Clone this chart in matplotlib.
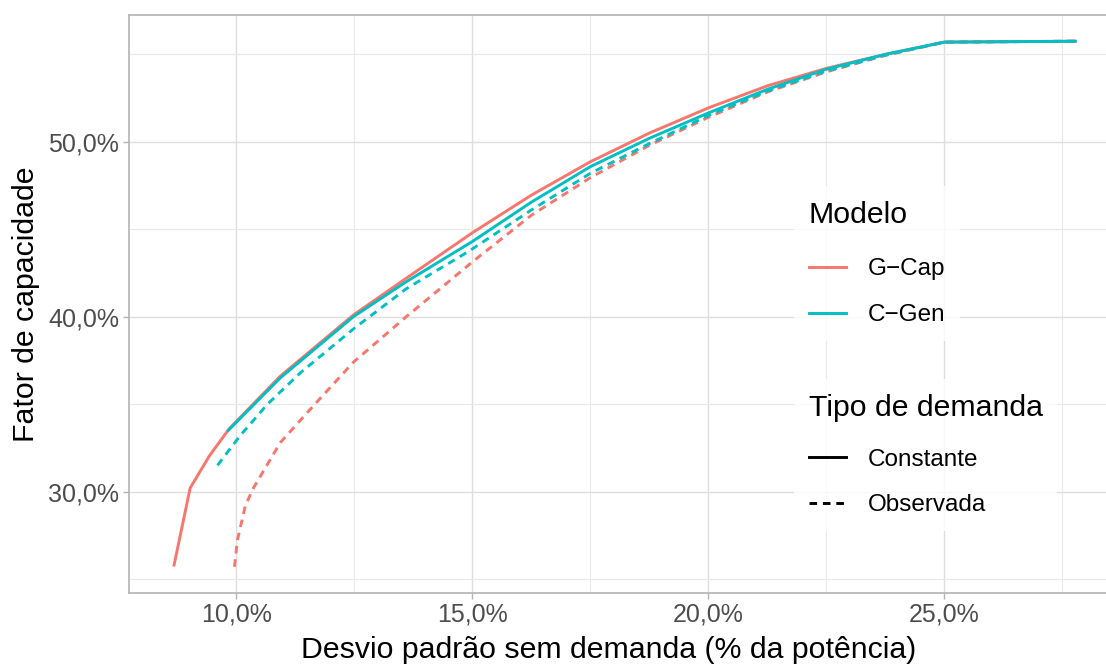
import matplotlib
matplotlib.use("Agg")
import matplotlib.pyplot as plt
from matplotlib.lines import Line2D
from matplotlib.ticker import FixedLocator, FuncFormatter

plt.rcParams['font.family'] = ['Liberation Sans', 'DejaVu Sans']

# desvio padrão (%) x fator de capacidade (%)
gcap_const_x = [8.68, 9.02, 9.43, 9.85, 10.93, 12.48, 13.6, 15.0, 16.25, 17.5, 18.75,
                20.0, 21.25, 22.5, 23.75, 25.0, 27.77]
gcap_const_y = [25.8, 30.2, 32.05, 33.6, 36.6, 40.1, 42.2, 44.8, 46.95, 48.86, 50.5,
                51.94, 53.2, 54.2, 55.0, 55.7, 55.75]

cgen_const_x = [9.83, 10.93, 12.48, 13.6, 15.0, 16.25, 17.5, 18.75, 20.0, 21.25,
                22.5, 23.75, 25.0, 27.77]
cgen_const_y = [33.5, 36.5, 40.0, 42.0, 44.3, 46.55, 48.58, 50.2, 51.65, 53.0,
                54.15, 55.0, 55.7, 55.75]

gcap_obs_x = [9.96, 10.02, 10.19, 10.36, 10.93, 11.63, 12.14, 12.48, 13.6, 15.03,
              16.25, 17.5, 18.75, 20.0, 21.25, 22.5, 23.75, 25.0, 27.77]
gcap_obs_y = [25.7, 27.2, 29.2, 30.2, 32.8, 34.9, 36.4, 37.4, 40.0, 43.2,
              45.8, 47.95, 49.8, 51.4, 52.85, 54.0, 54.95, 55.7, 55.75]

cgen_obs_x = [9.6, 10.08, 10.66, 11.36, 12.48, 13.6, 14.9, 16.25, 17.5, 18.75,
              20.0, 21.25, 22.5, 23.75, 25.0, 27.77]
cgen_obs_y = [31.5, 33.2, 35.0, 36.8, 39.3, 41.6, 43.7, 46.1, 48.2, 49.9,
              51.5, 52.9, 54.05, 54.95, 55.7, 55.75]

modelos = ['G\u2212Cap', 'C\u2212Gen']
tipos = ['Constante', 'Observada']
cores = ['#F8766D', '#00BFC4']

fig = plt.figure(figsize=(11.06, 6.64), dpi=100)
ax = fig.add_axes([129 / 1106, 1 - 593 / 664, (1120 - 129) / 1106, (593 - 15) / 664])

dash = (0, (2.6, 2.0))
lw = 2.1
ax.plot(gcap_obs_x, gcap_obs_y, color=cores[0], lw=lw, ls=dash)
ax.plot(cgen_obs_x, cgen_obs_y, color=cores[1], lw=lw, ls=dash)
ax.plot(gcap_const_x, gcap_const_y, color=cores[0], lw=lw)
ax.plot(cgen_const_x, cgen_const_y, color=cores[1], lw=lw)

ax.set_xlim(7.725, 28.72)
ax.set_ylim(24.2, 57.25)

fmt = FuncFormatter(lambda v, p: f"{v:.1f}%".replace('.', ','))
ax.xaxis.set_major_locator(FixedLocator([10, 15, 20, 25]))
ax.xaxis.set_minor_locator(FixedLocator([12.5, 17.5, 22.5, 27.5]))
ax.yaxis.set_major_locator(FixedLocator([30, 40, 50]))
ax.yaxis.set_minor_locator(FixedLocator([25, 35, 45, 55]))
ax.xaxis.set_major_formatter(fmt)
ax.yaxis.set_major_formatter(fmt)

ax.grid(which='major', color='#DEDEDE', lw=1.0)
ax.grid(which='minor', color='#E8E8E8', lw=0.8)
ax.set_axisbelow(True)
for s in ax.spines.values():
    s.set_color('#B3B3B3')
    s.set_linewidth(1.2)
ax.tick_params(which='major', length=4, width=1.0, color='#B3B3B3',
               labelsize=18, labelcolor='#4D4D4D', pad=3)
ax.tick_params(which='minor', length=0)

ax.set_xlabel('Desvio padrão sem demanda (% da potência)', fontsize=21.8, labelpad=2)
ax.set_ylabel('Fator de capacidade', fontsize=21.8, labelpad=6)
ax.xaxis.set_label_coords((609 - 129) / 991, -0.075)

h_modelo = [Line2D([], [], color=c, lw=lw) for c in cores]
h_tipo = [Line2D([], [], color='black', lw=lw),
          Line2D([], [], color='black', lw=lw, ls=dash)]

opts = dict(fontsize=17.5, title_fontsize=21.8, frameon=True, fancybox=False,
            handlelength=1.52, handletextpad=0.9, labelspacing=0.97,
            borderpad=0.6, borderaxespad=0, loc='upper left',
            bbox_transform=fig.transFigure, alignment='left')


def caixa(leg, sep):
    leg.get_frame().set_edgecolor('none')
    leg.get_frame().set_facecolor('white')
    # espaço entre o título e as entradas
    leg._legend_box.sep = sep
    return leg


leg1 = caixa(ax.legend(h_modelo, modelos, title='Modelo',
                       bbox_to_anchor=(794 / 1106, 1 - 186 / 664), **opts), 21.5)
ax.add_artist(leg1)
leg2 = caixa(ax.legend(h_tipo, tipos, title='Tipo de demanda',
                       bbox_to_anchor=(794 / 1106, 1 - 379 / 664), **opts), 19.5)

fig.savefig('out.png', dpi=100)
